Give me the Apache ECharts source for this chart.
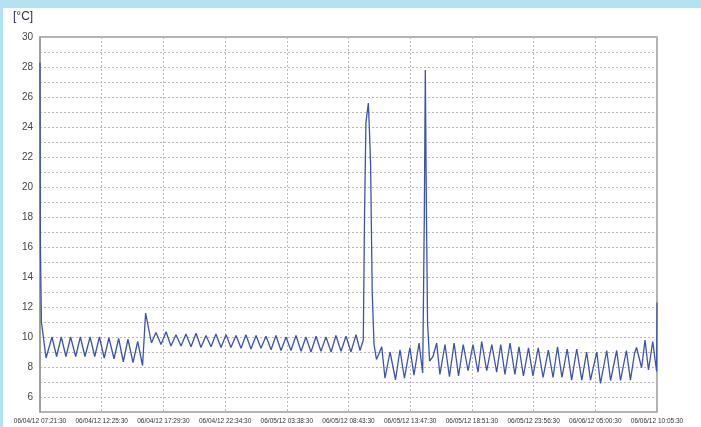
<!DOCTYPE html>
<html>
<head>
<meta charset="utf-8">
<script src="https://cdn.jsdelivr.net/npm/echarts@6/dist/echarts.min.js"></script>
<style>
html,body{margin:0;padding:0;width:701px;height:427px;background:#b4e2f1;overflow:hidden;}
#c{position:absolute;left:3px;top:8px;width:698px;height:419px;background:#fff;}
</style>
</head>
<body>
<div id="c"></div>
<script>
// x tick labels (one every 304.4 minutes from the start of the log)
var tickLabels = ["06/04/12 07:21:30","06/04/12 12:25:30","06/04/12 17:29:30","06/04/12 22:34:30","06/05/12 03:38:30","06/05/12 08:43:30","06/05/12 13:47:30","06/05/12 18:51:30","06/05/12 23:56:30","06/06/12 05:00:30","06/06/12 10:05:30"];
var yUnit = "[°C]";
// elapsed minutes since 06/04/12 07:21:30
var minutes = [0,2,7,30,59,82,105,128,151,176,199,222,247,270,293,317,340,365,388,411,434,459,482,506,521,550,
 572,597,622,646,671,696,720,745,770,794,819,844,868,893,918,942,967,992,1016,1041,1066,1090,1115,1140,1164,1189,1214,1238,1263,1288,1312,1337,1362,1386,1411,1436,1460,1485,1510,1534,1559,1579,
 1595,1601,1608,1620,1626,1631,1639,1648,1660,1686,1702,1727,1754,1776,1798,1825,1845,1870,1888,1896,1901,1906,1912,1922,1939,1957,1973,1998,2020,2043,2065,2088,2112,2136,2161,2179,2204,2229,2253,2273,2294,2319,2343,2363,2385,2410,2432,2458,2482,2508,2531,2553,2575,2601,2623,2648,2673,2697,2716,2747,2765,2796,2815,2845,2864,2893,2913,2933,2943,2968,2985,3002,3023,3042,3044];
// temperature in °C
var temps = [28.3,16.0,11.0,8.6,10.0,8.7,10.0,8.7,10.0,8.7,10.0,8.7,10.0,8.7,10.0,8.6,9.95,8.55,9.9,8.35,9.85,8.3,9.7,8.1,11.6,9.6,
 10.3,9.5,10.35,9.4,10.15,9.4,10.2,9.35,10.25,9.3,10.1,9.35,10.2,9.3,10.15,9.3,10.1,9.25,10.15,9.2,10.1,9.25,10.05,9.15,10.1,9.1,10.0,9.1,10.1,9.05,10.0,9.0,10.05,9.05,10.0,9.0,10.1,9.05,10.05,9.0,10.15,9.1,
 9.8,18,24.3,25.6,23.5,21.5,13,9.5,8.5,9.35,7.25,9.0,7.15,9.15,7.25,9.3,7.45,9.6,7.6,18,27.8,19,11,8.4,8.7,9.6,7.5,9.5,7.35,9.6,7.4,9.5,7.75,9.5,7.65,9.7,7.75,9.5,7.65,9.5,7.5,9.6,7.5,9.35,7.4,9.27,7.4,9.27,7.3,9.13,7.3,9.35,7.3,9.2,7.13,9.2,7.13,9.0,7.13,9.0,6.9,9.1,7.1,9.1,7.1,9.1,7.13,8.9,9.3,7.95,9.8,7.8,9.7,7.7,12.3];

var data = minutes.map(function(m,i){return [m,temps[i]];});
var chart = echarts.init(document.getElementById('c'));
chart.setOption({
  animation:false,
  backgroundColor:'#ffffff',
  grid:{left:37,top:29,right:44,bottom:15,show:true,borderColor:'#9a9a9a',borderWidth:1.5,backgroundColor:'transparent'},
  graphic:[{type:'text',left:10,top:3,style:{text:yUnit,font:'12px "Liberation Sans", Arial, sans-serif',fill:'#2b2f4a'}}],
  xAxis:{type:'value',min:0,max:3044,interval:304.4,
    axisLine:{show:false},axisTick:{show:false},
    axisLabel:{fontSize:6.5,color:'#333',margin:6,fontFamily:'Liberation Sans',showMaxLabel:true,showMinLabel:true,
      formatter:function(v){var i=Math.round(v/304.4);return tickLabels[i]||'';}},
    splitLine:{show:true,lineStyle:{color:'#b8b8b8',type:[2,2],width:1}}},
  yAxis:{type:'value',min:5,max:30,interval:1,
    axisLine:{show:true,lineStyle:{color:'#9a9a9a',width:1.5}},axisTick:{show:false},
    axisLabel:{fontSize:10,color:'#444',margin:7,fontFamily:'Liberation Sans',
      formatter:function(v){return (Math.round(v)%2===0)?String(Math.round(v)):'';}},
    splitLine:{show:true,lineStyle:{color:'#b8b8b8',type:[2,2],width:1}}},
  series:[{type:'line',data:data,showSymbol:false,symbol:'none',
    lineStyle:{color:'#3d52ad',width:1.3},z:3}]
});
</script>
</body>
</html>
